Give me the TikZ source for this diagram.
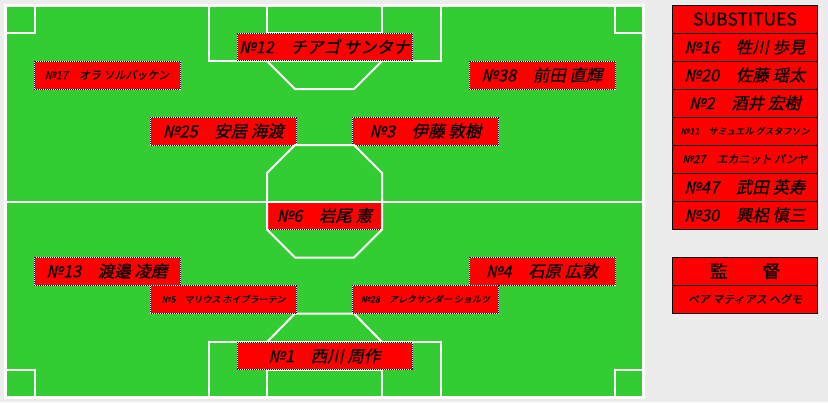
\documentclass[tikz,border=0pt]{standalone}
\usepackage{fontspec}
\newfontfamily\jpfont[FakeSlant=0.2, FakeBold=0.6]{Noto Sans CJK JP}
\newfontfamily\jpupright[FakeBold=0.6]{Noto Sans CJK JP}
\usetikzlibrary{positioning}
\definecolor{pitchgreen}{RGB}{51,204,51}
\definecolor{panelgray}{RGB}{236,236,236}
\newcommand{\bigname}{\jpfont\fontsize{16.5}{16.5}\selectfont}
\newcommand{\midname}{\jpfont\fontsize{11}{11}\selectfont}
\newcommand{\smallname}{\jpfont\fontsize{9}{9}\selectfont}
\newcommand{\headname}{\jpupright\fontsize{17.5}{17.5}\selectfont}
\tikzset{
x=1pt, y=-1pt, % one unit is one pixel, origin at top left
marking/.style={white, line width=2pt}, % lines of the pitch
player/.style={draw=white, fill=red, line width=1pt, inner sep=0pt, outer sep=0pt,
  minimum width=146pt, minimum height=28pt, font=\bigname,
  postaction={draw=black, dash pattern=on 1pt off 1pt}}, % red card with dotted rim
keeper/.style={player, minimum width=175pt, minimum height=27pt}, % wider card in the boxes
row/.style={draw=black, fill=red, line width=1pt, inner sep=0pt, outer sep=0pt,
  minimum width=145.5pt, minimum height=28pt, font=\bigname}, % one line of a table
}

\begin{document}
\begin{tikzpicture}
\fill[panelgray] (0,0) rectangle (828,402);
\useasboundingbox (0,0) rectangle (828,402);
% pitch
\fill[pitchgreen] (5.5,5.5) rectangle (643.5,397.5);
\draw[marking, line width=3pt] (5.5,5.5) rectangle (643.5,397.5);
\draw[marking] (5.5,33) -| (34.5,5.5);
\draw[marking] (643.5,33) -| (614.5,5.5);
\draw[marking] (5.5,369.5) -| (34.5,397.5);
\draw[marking] (643.5,369.5) -| (614.5,397.5);
\draw[marking] (208.5,5.5) -- (208.5,61) -- (440.5,61) -- (440.5,5.5);
\draw[marking] (266.7,5.5) -- (266.7,33) -- (382.3,33) -- (382.3,5.5);
\draw[marking] (267,61) -- (295,89) -- (354,89) -- (382,61);
\draw[marking] (208.5,397.5) -- (208.5,342) -- (440.5,342) -- (440.5,397.5);
\draw[marking] (266.7,397.5) -- (266.7,369.5) -- (382.3,369.5) -- (382.3,397.5);
\draw[marking] (267,342) -- (295,313.5) -- (354,313.5) -- (382,342);

% players
\node[keeper] (n12) at (324.5,46.5) {№12　チアゴ サンタナ};
\node[player, font=\midname] (n17) at (107,75) {№17　オラ ソルバッケン};
\node[player] (n38) at (542,75) {№38　前田 直輝};
\node[player] (n25) at (223.5,131) {№25　安居 海渡};
\node[player] (n3) at (425.5,131) {№3　伊藤 敦樹};
\node[player, minimum width=115pt, minimum height=27.5pt] (n6) at (324.5,215.5) {№6　岩尾 憲};
\node[player] (n13) at (107,271) {№13　渡邉 凌磨};
\node[player] (n4) at (542,271) {№4　石原 広敦};
\node[player, font=\smallname] (n5) at (223.5,299) {№5　マリウス ホイブラーテン};
\node[player, font=\smallname] (n28) at (425.5,299) {№28　アレクサンダー ショルツ};
\node[keeper] (n1) at (324.5,356) {№1　西川 周作};

% centre markings over the holding midfielder
\draw[marking] (5.5,201.5) -- (643.5,201.5);
\draw[marking] (295,145) -- (354,145) -- (382,173) -- (382,229.5) -- (354,257.5)
  -- (295,257.5) -- (267,229.5) -- (267,173) -- cycle;

% substitutes
\node[row, font=\headname] (subs) at (745,19) {SUBSTITUES};
\node[row, below=0pt of subs] (s16) {№16　牲川 歩見};
\node[row, below=0pt of s16] (s20) {№20　佐藤 瑶太};
\node[row, below=0pt of s20] (s2) {№2　酒井 宏樹};
\node[row, font=\smallname, below=0pt of s2] (s11) {№11　サミュエル グスタフソン};
\node[row, font=\midname, below=0pt of s11] (s27) {№27　エカニット パンヤ};
\node[row, below=0pt of s27] (s47) {№47　武田 英寿};
\node[row, below=0pt of s47] (s30) {№30　興梠 慎三};

% manager
\node[row, font=\headname] (coach) at (745,271) {監　　督};
\node[row, font=\midname, below=0pt of coach] (hegmo) {ペア マティアス ヘグモ};
\end{tikzpicture}
\end{document}
